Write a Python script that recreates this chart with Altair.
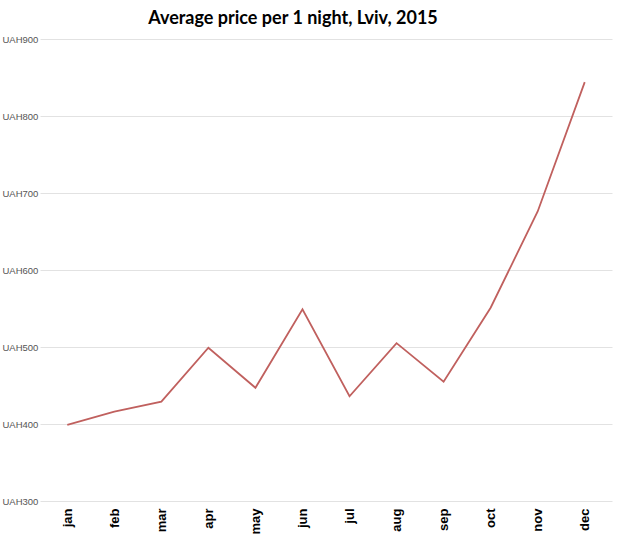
import altair as alt
import pandas as pd

months = ["jan", "feb", "mar", "apr", "may", "jun", "jul", "aug", "sep", "oct", "nov", "dec"]
avg_price = [399, 416, 429, 499, 447, 549, 436, 505, 455, 551, 676, 844]
y_ticks = [300, 400, 500, 600, 700, 800, 900]

df = pd.DataFrame({"month": months, "price": avg_price})

chart = (
    alt.Chart(df)
    .mark_line(color="#c0605e", strokeWidth=1.8)
    .encode(
        x=alt.X(
            "month:N",
            sort=months,
            title=None,
            scale=alt.Scale(type="point", padding=0.58),
            axis=alt.Axis(
                labelAngle=270,
                labelAlign="right",
                labelBaseline="middle",
                labelFont="Liberation Sans",
                labelFontSize=13,
                labelFontWeight="bold",
                labelColor="#000000",
                labelPadding=7,
                ticks=False,
                tickSize=0,
                domain=False,
                grid=False,
            ),
        ),
        y=alt.Y(
            "price:Q",
            title=None,
            scale=alt.Scale(domain=[300, 900], nice=False, zero=False),
            axis=alt.Axis(
                values=y_ticks,
                labelExpr="'UAH' + datum.value",
                labelAlign="left",
                labelBaseline="middle",
                labelFont="Liberation Sans",
                labelFontSize=9.5,
                labelColor="#555555",
                labelPadding=38,
                ticks=False,
                tickSize=0,
                domain=False,
                grid=True,
                gridColor="#e2e2e2",
                gridWidth=1,
            ),
        ),
    )
    .properties(
        width=572,
        height=462,
        background="#ffffff",
        title=alt.TitleParams(
            "Average price per 1 night, Lviv, 2015",
            font="Lato",
            fontSize=18,
            fontWeight="bold",
            color="#000000",
            anchor="middle",
            offset=6,
            dx=-33,
        ),
        autosize=alt.AutoSizeParams(type="none"),
        padding={"left": 40, "top": 39, "right": 7, "bottom": 51},
    )
    .configure_view(stroke=None, strokeWidth=0)
)

chart.save("out.html", embed_options={"renderer": "svg", "actions": False})
